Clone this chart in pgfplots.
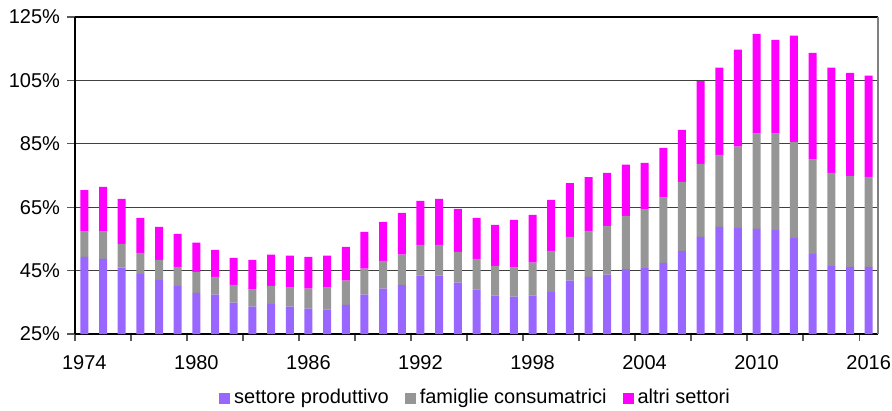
\documentclass[border=0pt]{standalone}
\usepackage{fontspec}
\setmainfont{Liberation Sans}
\usepackage{pgfplots}
\usepackage{pgfplotstable}
\pgfplotsset{compat=1.18}

\definecolor{prod}{HTML}{9966FF}
\definecolor{fam}{HTML}{969696}
\definecolor{altri}{HTML}{FF00FF}

% year, settore produttivo, famiglie consumatrici, altri settori (stacked shares, %)
\pgfplotstableread{
year prod fam altri
1974 49.3 8.0 13.1
1975 48.7 8.6 14.1
1976 45.9 7.5 14.2
1977 44.0 6.6 11.0
1978 42.1 6.3 10.4
1979 40.2 6.0 10.4
1980 38.0 6.6 9.2
1981 37.4 5.6 8.5
1982 34.9 5.6 8.5
1983 33.6 5.4 9.4
1984 34.5 5.7 9.8
1985 33.6 6.0 10.1
1986 33.0 6.3 10.0
1987 32.7 6.9 10.1
1988 34.2 7.6 10.7
1989 37.4 8.2 11.6
1990 39.3 8.8 12.3
1991 40.5 9.5 13.2
1992 43.4 9.7 13.9
1993 43.4 9.7 14.5
1994 41.2 9.7 13.6
1995 39.0 9.7 12.9
1996 37.1 9.4 12.9
1997 36.8 9.4 14.8
1998 37.1 10.4 15.1
1999 38.3 12.9 16.1
2000 41.8 13.8 17.0
2001 43.0 14.5 17.0
2002 43.7 15.4 16.7
2003 45.5 16.8 16.1
2004 45.8 18.4 14.8
2005 47.4 20.6 15.7
2006 51.2 21.8 16.4
2007 55.6 23.1 26.1
2008 58.8 22.7 27.5
2009 58.5 25.6 30.6
2010 58.2 30.0 31.5
2011 57.8 30.4 29.6
2012 55.3 30.3 33.5
2013 50.3 29.7 33.7
2014 46.5 29.3 33.2
2015 46.2 28.7 32.5
2016 46.2 28.4 31.9
}\debito

\begin{document}
\begin{tikzpicture}
\useasboundingbox (-37.5pt,-38.5pt) rectangle (408.5pt,167pt);
\begin{axis}[
    at={(0,0)}, anchor=south west,
    scale only axis,
    width=401.5pt, height=158.5pt,
    ybar stacked, bar width=4pt,
    xmin=1973.5, xmax=2016.5,
    ymin=25, ymax=125,
    xtick={1974,1980,...,2016},
    minor xtick={1973.5,1976.5,...,2015.5},
    ytick={25,45,...,125},
    yticklabel={\pgfmathprintnumber{\tick}\%},
    /pgf/number format/1000 sep={},
    /pgf/number format/assume math mode=true,
    tick align=outside,
    xtick pos=bottom, ytick pos=left,
    major x tick style={draw=none},
    minor tick length=3.5pt,
    major tick length=4pt,
    minor x tick style={draw=gray!70!black, line width=0.8pt},
    y tick style={draw=gray!70!black, line width=0.6pt},
    xticklabel style={yshift=-3pt},
    ymajorgrids,
    grid style={draw=black!75, line width=0.6pt},
    axis line style={line width=0.6pt},
    axis x line*=bottom,
    separate axis lines,
    x axis line style={line width=0.9pt},
    legend style={at={(rel axis cs:0.5,0)}, yshift=-32pt, anchor=center,
        draw=none, legend columns=3, font=\fontsize{10}{12}\selectfont,
        /tikz/every even column/.append style={column sep=6pt}},
    legend image code/.code={\fill[#1] (0pt,-2.75pt) rectangle (5.5pt,2.75pt);},
]
\addplot[fill=prod, draw=none] table[x=year, y=prod] {\debito};
\addplot[fill=fam, draw=none] table[x=year, y=fam] {\debito};
\addplot[fill=altri, draw=none] table[x=year, y=altri] {\debito};
\legend{settore produttivo, famiglie consumatrici, altri settori}
\end{axis}
\draw[black, line width=0.9pt] (0,0) -- (0,158.5pt);
\draw[black, line width=0.6pt] (0,158.5pt) -- (401.5pt,158.5pt);
\draw[gray, line width=0.6pt] (401.5pt,0) -- (401.5pt,158.5pt);
\end{tikzpicture}
\end{document}
